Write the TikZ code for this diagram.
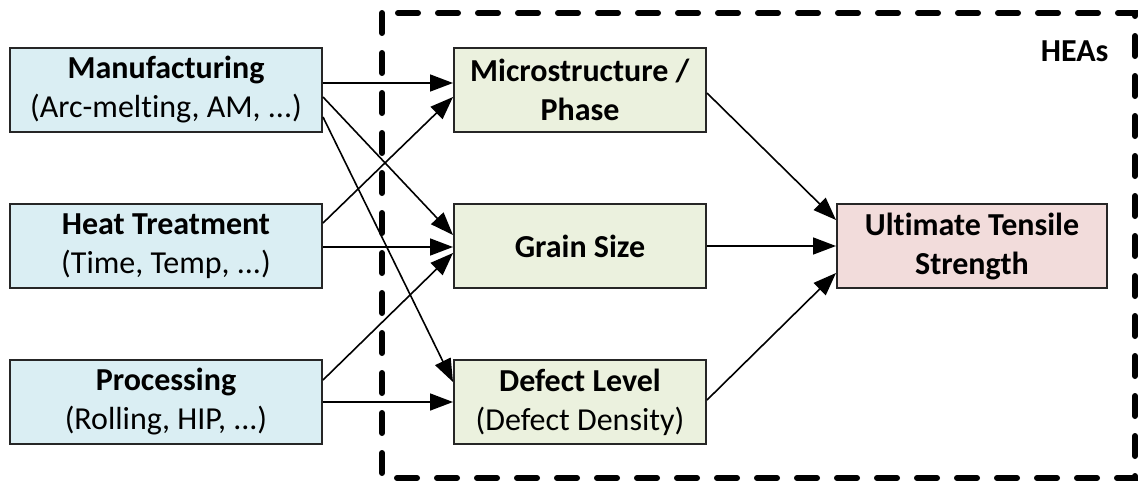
\documentclass[tikz,border=0pt]{standalone}
\usepackage{fontspec}
\setmainfont{Carlito}[Ligatures=NoCommon]
\usetikzlibrary{arrows.meta,calc}

\definecolor{inputfill}{HTML}{DAEEF3}
\definecolor{featfill}{HTML}{EBF1DE}
\definecolor{targetfill}{HTML}{F2DCDB}

\tikzset{
  boxfont/.style={font=\fontsize{32}{39}\selectfont},
  box/.style={draw=black!85, line width=2pt, inner sep=0pt, align=center,
    minimum height=84pt, boxfont},
  inbox/.style={box, fill=inputfill, minimum width=312pt},
  featbox/.style={box, fill=featfill, minimum width=252pt},
  targetbox/.style={box, fill=targetfill, minimum width=270pt},
  link/.style={line width=1.6pt, -{Triangle[length=23pt,width=17pt]}},
  region/.style={line width=6pt, dash pattern=on 20pt off 20pt, line cap=round}
}

\begin{document}
\begin{tikzpicture}[x=1pt, y=-1pt]
  \useasboundingbox (0,0) rectangle (1138,482);

  % HEA boundary
  \draw[region] (382,13) rectangle (1135,478);
  \node[anchor=east, font=\fontsize{32}{39}\selectfont\bfseries] (hea) at (1112,51) {HEAs};

  % process inputs
  \node[inbox] (manu) at (166,90)  {\textbf{Manufacturing}\\(Arc-melting, AM, ...)};
  \node[inbox] (heat) at (166,246) {\textbf{Heat Treatment}\\(Time, Temp, ...)};
  \node[inbox] (proc) at (166,402) {\textbf{Processing}\\(Rolling, HIP, ...)};

  % material features
  \node[featbox] (micro)  at (580,90)  {\textbf{Microstructure /}\\\textbf{Phase}};
  \node[featbox] (grain)  at (580,246) {\textbf{Grain Size}};
  \node[featbox] (defect) at (580,402) {\textbf{Defect Level}\\(Defect Density)};

  % property
  \node[targetbox] (uts) at (972,246) {\textbf{Ultimate Tensile}\\\textbf{Strength}};

  % inputs -> features
  \draw[link] ($(manu.east)+(0,-7)$) -- ($(micro.west)+(0,-7)$);
  \draw[link] ($(manu.east)+(0,7)$)  -- ($(grain.west)+(0,-11)$);
  \draw[link] ($(manu.east)+(0,27)$) -- ($(defect.west)+(0,-20)$);
  \draw[link] ($(heat.east)+(0,-23)$) -- ($(micro.west)+(0,7)$);
  \draw[link] ($(heat.east)+(0,1)$)  -- ($(grain.west)+(0,1)$);
  \draw[link] ($(proc.east)+(0,-22)$) -- ($(grain.west)+(0,7)$);
  \draw[link] (proc.east) -- (defect.west);

  % features -> property
  \draw[link] ($(micro.east)+(0,3)$)   -- ($(uts.west)+(0,-26)$);
  \draw[link] (grain.east) -- (uts.west);
  \draw[link] ($(defect.east)+(0,-2)$) -- ($(uts.west)+(0,27)$);
\end{tikzpicture}
\end{document}
